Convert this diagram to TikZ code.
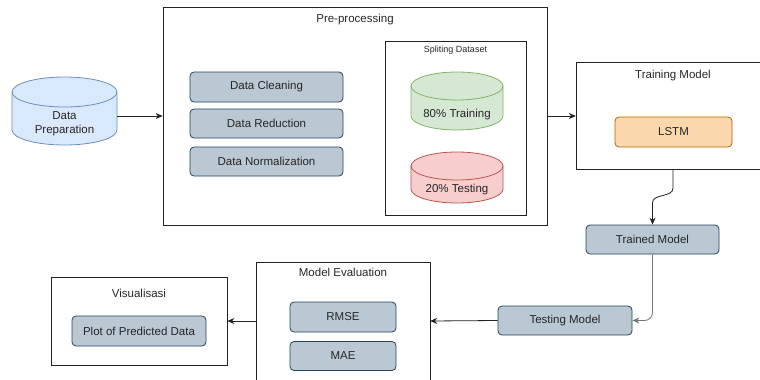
\documentclass[tikz,border=0pt]{standalone}
\usepackage{fontspec}
\setmainfont{Liberation Sans}
\usetikzlibrary{arrows.meta}
\definecolor{bgfill}{HTML}{BAC8D3}
\definecolor{bgdraw}{HTML}{23445D}
\definecolor{bluefill}{HTML}{DAE8FC}
\definecolor{bluedraw}{HTML}{6C8EBF}
\definecolor{grfill}{HTML}{D5E8D4}
\definecolor{grdraw}{HTML}{82B366}
\definecolor{rdfill}{HTML}{F8CECC}
\definecolor{rddraw}{HTML}{B85450}
\definecolor{orfill}{HTML}{FAD7AC}
\definecolor{ordraw}{HTML}{B46504}
\definecolor{framec}{HTML}{222222}
\definecolor{greyline}{HTML}{777777}
\begin{document}
\begin{tikzpicture}[x=1pt,y=1pt,
  font=\fontsize{11.5}{13.8}\selectfont,
  gbox/.style={draw=bgdraw, fill=bgfill, rounded corners=4, line width=0.8, inner sep=0, text=black!85},
  obox/.style={draw=ordraw, fill=orfill, rounded corners=4, line width=0.8, inner sep=0, text=black!85},
  frame/.style={draw=framec, line width=0.8, inner sep=0},
  hold/.style={draw=none, inner sep=0},
  lbl/.style={inner sep=0, text=black!85},
  arr/.style={-{Stealth[length=7,width=6]}, line width=0.8, draw=framec},
  garr/.style={-{Stealth[length=7,width=6]}, line width=0.8, draw=greyline}]
\useasboundingbox (0,0) rectangle (760,-380);

% Data preparation cylinder
\node[hold, minimum width=105, minimum height=68] (prep) at (64.5,-111) {};
\filldraw[fill=bluefill, draw=bluedraw, line width=0.8]
  (12,-92) -- (12,-130) arc[start angle=180,end angle=360,x radius=52.5,y radius=15]
  -- (117,-92) arc[start angle=0,end angle=180,x radius=52.5,y radius=15] -- cycle;
\draw[bluedraw, line width=0.8] (12,-92) arc[start angle=180,end angle=360,x radius=52.5,y radius=15];
\node[lbl, align=center] (prepT) at (64.5,-124) {Data\\Preparation};

% Pre-processing
\node[frame, minimum width=384, minimum height=218] (pre) at (355,-116) {};
\node[lbl] (preT) at (355,-20) {Pre-processing};
\node[gbox, minimum width=153, minimum height=30] (clean) at (266.5,-87) {Data Cleaning};
\node[gbox, minimum width=153, minimum height=29] (reduc) at (266.5,-123.5) {Data Reduction};
\node[gbox, minimum width=153, minimum height=29] (norm) at (266.5,-161.5) {Data Normalization};

% Splitting dataset
\node[frame, minimum width=141, minimum height=174] (split) at (455.5,-128) {};
\node[lbl, font=\fontsize{9}{11}\selectfont] (splitT) at (455.5,-50) {Spliting Dataset};

\node[hold, minimum width=92, minimum height=58] (trainc) at (457,-101) {};
\filldraw[fill=grfill, draw=grdraw, line width=0.8]
  (411,-86) -- (411,-116) arc[start angle=180,end angle=360,x radius=46,y radius=14]
  -- (503,-86) arc[start angle=0,end angle=180,x radius=46,y radius=14] -- cycle;
\draw[grdraw, line width=0.8] (411,-86) arc[start angle=180,end angle=360,x radius=46,y radius=14];
\node[lbl] (traincT) at (457,-115) {80\% Training};

\node[hold, minimum width=92, minimum height=51] (testc) at (457,-177.5) {};
\filldraw[fill=rdfill, draw=rddraw, line width=0.8]
  (411,-166) -- (411,-189) arc[start angle=180,end angle=360,x radius=46,y radius=14]
  -- (503,-166) arc[start angle=0,end angle=180,x radius=46,y radius=14] -- cycle;
\draw[rddraw, line width=0.8] (411,-166) arc[start angle=180,end angle=360,x radius=46,y radius=14];
\node[lbl] (testcT) at (457,-190) {20\% Testing};

% Training model (open on the right)
\node[hold, minimum width=184, minimum height=107] (tm) at (668,-115.5) {};
\draw[framec, line width=0.8] (761,-62) -- (576,-62) -- (576,-169) -- (761,-169);
\node[lbl] (tmT) at (673,-76) {Training Model};
\node[obox, minimum width=117, minimum height=30] (lstm) at (673.5,-132) {LSTM};

\node[gbox, minimum width=133, minimum height=29] (trained) at (652.5,-239.5) {Trained Model};
\node[gbox, minimum width=134, minimum height=29] (testing) at (565,-320.5) {Testing Model};

% Model evaluation (open at the bottom)
\node[hold, minimum width=174, minimum height=118] (me) at (343,-321) {};
\draw[framec, line width=0.8] (256,-381) -- (256,-262) -- (430,-262) -- (430,-381);
\node[lbl] (meT) at (343,-272) {Model Evaluation};
\node[gbox, minimum width=106, minimum height=30] (rmse) at (343,-317) {RMSE};
\node[gbox, minimum width=106, minimum height=29] (mae) at (343,-356) {MAE};

% Visualisasi
\node[frame, minimum width=176, minimum height=88] (vis) at (139,-321) {};
\node[lbl] (visT) at (139,-293) {Visualisasi};
\node[gbox, minimum width=134, minimum height=30] (plot) at (139,-331) {Plot of Predicted Data};

% connectors
\draw[arr] (prep.east |- pre.west) -- (pre.west);
\draw[arr] (pre.east) -- (pre.east -| tm.west);
\coordinate (c1) at (673,-188);
\coordinate (c2) at (652.5,-203);
\draw[arr] (tm.south -| c1) -- (c1) .. controls +(0,-10) and +(0,10) .. (c2) -- (trained.north);
\draw[garr, rounded corners=8] (trained.south) |- (testing.east);
\draw[arr] (testing.west) -- (me.east);
\draw[arr] (me.west) -- (vis.east);
\end{tikzpicture}
\end{document}
